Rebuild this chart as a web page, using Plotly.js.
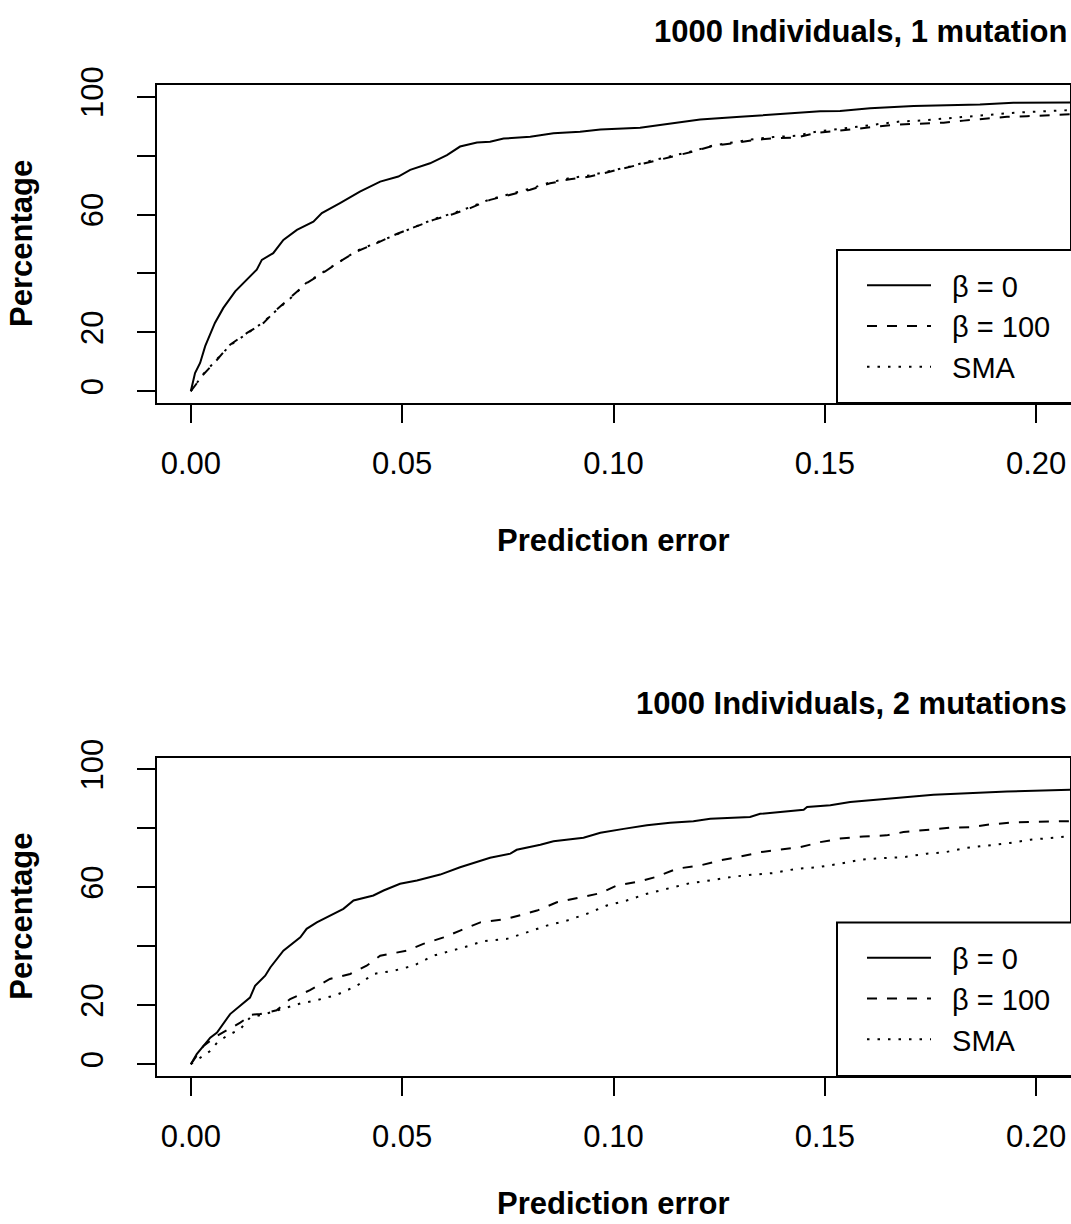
<!DOCTYPE html>
<html><head><meta charset="utf-8">
<script src="https://cdn.plot.ly/plotly-3.0.1.min.js"></script>
<style>html,body{margin:0;padding:0;background:#fff}#chart{width:1071px;height:1224px}</style>
</head><body><div id="chart"></div>
<script>
// ---- data ----
const xTickVals = [0, 0.05, 0.10, 0.15, 0.20];
const xTickText = ['0.00', '0.05', '0.10', '0.15', '0.20'];
const yTickVals = [0, 20, 40, 60, 80, 100];
const yTickText = ['0', '20', '', '60', '', '100'];
const seriesNames = ['β = 0', 'β = 100', 'SMA'];
const panelTitles = ['1000 Individuals, 1 mutation', '1000 Individuals, 2 mutations'];
const xLabel = 'Prediction error';
const yLabel = 'Percentage';

// panel 1: 1 mutation
const m1_b0_x = [0, .001, .0022, .0034, .0057, .0077, .0105, .0156, .0168, .0195, .0219, .0251, .029, .031, .0353, .04, .0448, .0491, .0519, .0566, .0606, .0637, .0677, .0708, .074, .0803, .0858, .0921, .0969, .1063, .111, .1158, .1205, .13, .1378, .1442, .1489, .1536, .1607, .171, .1867, .1946, .21];
const m1_b0_y = [0, 6.2, 9.6, 15.3, 23.2, 28.3, 33.9, 41.3, 44.6, 46.9, 51.4, 54.8, 57.6, 60.5, 63.9, 67.8, 71.2, 72.9, 75.2, 77.4, 80.2, 83.1, 84.5, 84.7, 85.8, 86.4, 87.6, 88.1, 88.9, 89.5, 90.4, 91.3, 92.3, 93.2, 94.0, 94.7, 95.1, 95.2, 96.1, 96.9, 97.4, 98.0, 98.1];
const m1_b100_x = [0, .003, .0062, .0093, .0133, .0172, .0203, .0243, .0274, .0314, .0353, .0393, .044, .0487, .0535, .0574, .0621, .0661, .0708, .0756, .0803, .085, .0897, .0944, .0992, .1039, .1086, .1134, .1189, .1237, .1284, .1331, .1378, .1434, .1481, .1529, .1576, .1631, .1678, .1734, .1781, .1828, .1876, .1931, .1978, .2025, .21];
const m1_b100_y = [0, 5.7, 10.7, 15.8, 19.8, 23.2, 27.7, 32.8, 36.7, 40.3, 44.1, 47.5, 50.3, 53.4, 55.9, 58.2, 60.2, 62.2, 65.0, 66.7, 68.4, 70.6, 72.0, 72.9, 74.6, 76.1, 78.0, 79.5, 81.4, 83.4, 84.2, 85.3, 85.9, 86.2, 87.8, 88.4, 89.2, 90.0, 90.6, 90.9, 91.2, 91.9, 92.6, 93.2, 93.4, 93.8, 94.2];
const m1_sma_x = [0, .003, .0062, .0093, .0133, .0172, .0203, .0243, .0274, .0314, .0353, .0393, .044, .0487, .0535, .0574, .0621, .0661, .0708, .0756, .0803, .085, .0897, .0944, .0992, .1039, .1086, .1134, .1189, .1237, .1284, .1331, .1378, .1434, .1481, .1529, .1576, .1631, .1678, .1734, .1781, .1828, .1876, .1931, .1978, .2025, .21];
const m1_sma_y = [0, 5.9, 10.9, 15.6, 19.6, 23.5, 27.5, 32.5, 36.9, 40.5, 44.0, 47.7, 50.5, 53.2, 56.1, 58.4, 60.5, 62.5, 65.2, 66.9, 68.8, 70.9, 72.4, 73.3, 74.9, 76.3, 78.2, 79.8, 81.6, 83.5, 84.5, 85.6, 86.3, 86.8, 88.2, 88.9, 89.8, 90.8, 91.6, 92.0, 92.6, 93.2, 93.9, 94.4, 94.8, 95.2, 95.6];

// panel 2: 2 mutations
const m2_b0_x = [0, .0014, .0046, .0062, .0093, .0117, .014, .0152, .0176, .0188, .0219, .0259, .0274, .0298, .0337, .0361, .0385, .0432, .0456, .0495, .0535, .059, .0637, .0708, .0756, .0771, .0827, .0858, .0929, .0969, .1024, .1079, .1134, .1189, .1229, .1323, .1347, .1394, .145, .1458, .1513, .156, .1655, .1757, .1931, .21];
const m2_b0_y = [0, 3.4, 9.0, 10.7, 17.0, 19.8, 22.6, 26.6, 30.0, 32.8, 38.5, 43.0, 45.9, 48.1, 51.0, 52.7, 55.5, 57.2, 58.9, 61.2, 62.3, 64.3, 66.8, 70.0, 71.4, 72.7, 74.4, 75.6, 76.8, 78.5, 79.8, 81.0, 81.9, 82.4, 83.2, 83.8, 84.9, 85.5, 86.3, 87.2, 87.8, 88.9, 90.2, 91.4, 92.5, 93.1];
const m2_b100_x = [0, .003, .0062, .0089, .0117, .0144, .0164, .0203, .0235, .0282, .0329, .0377, .0416, .0448, .0511, .055, .0598, .0637, .0685, .0748, .0819, .0866, .0921, .0969, .1008, .1063, .1103, .115, .1205, .1252, .13, .1347, .1394, .1442, .1489, .1536, .1591, .1646, .1686, .1741, .1797, .1844, .1891, .1946, .1994, .21];
const m2_b100_y = [0, 6.2, 9.6, 11.9, 14.1, 16.8, 17.0, 18.3, 22.1, 25.1, 28.9, 30.6, 33.4, 36.8, 38.5, 40.8, 43.0, 45.3, 48.1, 49.3, 52.1, 54.9, 56.6, 58.0, 60.6, 62.0, 63.6, 66.3, 67.4, 69.1, 70.4, 71.9, 72.8, 73.6, 75.3, 76.5, 77.2, 77.6, 78.7, 79.5, 80.2, 80.4, 81.3, 82.0, 82.2, 82.5];
const m2_sma_x = [0, .0022, .0046, .0062, .0085, .0117, .014, .018, .0219, .0259, .0298, .0345, .0393, .0432, .048, .0527, .0574, .0621, .0645, .0692, .0748, .0795, .0842, .089, .0937, .0984, .1031, .1079, .1126, .1181, .1229, .1284, .1331, .1378, .1434, .1484, .1536, .1587, .1638, .1686, .1741, .1785, .1837, .1887, .1938, .1986, .2065, .21];
const m2_sma_y = [0, 2.3, 4.5, 7.3, 9.6, 11.9, 15.8, 17.2, 19.0, 20.6, 21.7, 23.5, 26.6, 30.6, 31.7, 33.4, 36.8, 38.5, 39.6, 41.7, 42.5, 44.7, 47.0, 48.7, 51.0, 53.8, 55.5, 57.8, 59.5, 61.4, 62.3, 63.6, 64.3, 64.8, 66.3, 66.8, 68.0, 69.4, 69.9, 70.2, 71.4, 71.9, 73.4, 74.2, 75.0, 76.1, 77.3, 77.6];

// ---- layout helpers ----
const W = 1071, H = 1224, ML = 157, MR = 1;
const FONT = 'Liberation Sans, Arial, Helvetica, sans-serif';
const FS = 31;
const px2x = p => (p - ML) / (W - ML - MR);
const px2y = p => 1 - p / H;
const panels = [{top: 85, bottom: 403}, {top: 757.5, bottom: 1076}];
const dashes = ['solid', '10px,10px', '2.5px,8px'];
const NB = '\u00a0\u00a0';

const data = [];
const series = [
  [[m1_b0_x, m1_b0_y], [m1_b100_x, m1_b100_y], [m1_sma_x, m1_sma_y]],
  [[m2_b0_x, m2_b0_y], [m2_b100_x, m2_b100_y], [m2_sma_x, m2_sma_y]]
];
series.forEach((grp, pi) => {
  grp.forEach((s, si) => {
    data.push({
      type: 'scatter', mode: 'lines',
      x: s[0], y: s[1],
      name: NB + seriesNames[si],
      xaxis: pi === 0 ? 'x' : 'x2',
      yaxis: pi === 0 ? 'y' : 'y2',
      legend: pi === 0 ? 'legend' : 'legend2',
      line: {color: '#000', width: 2, dash: dashes[si]},
      hoverinfo: 'skip'
    });
  });
});

function xax(anchor) {
  return {
    domain: [0, 1], anchor: anchor, range: [-0.008, 0.208],
    tickvals: xTickVals, ticktext: xTickText,
    ticks: 'outside', ticklen: 18, tickwidth: 2, tickcolor: '#000',
    ticklabelstandoff: 14,
    showline: true, mirror: true, linewidth: 2, linecolor: '#000',
    showgrid: false, zeroline: false,
    tickfont: {family: FONT, size: FS, color: '#000'}
  };
}
function yax(anchor, p) {
  return {
    domain: [px2y(p.bottom), px2y(p.top)], anchor: anchor, range: [-4, 104],
    tickvals: yTickVals, ticktext: yTickText, tickangle: -90,
    ticks: 'outside', ticklen: 18, tickwidth: 2, tickcolor: '#000',
    ticklabelstandoff: 22,
    showline: true, mirror: true, linewidth: 2, linecolor: '#000',
    showgrid: false, zeroline: false,
    tickfont: {family: FONT, size: FS, color: '#000'}
  };
}
function leg(p) {
  return {
    x: px2x(862), xanchor: 'left', xref: 'paper',
    y: px2y(p.top + 241.5), yanchor: 'middle', yref: 'paper',
    bgcolor: 'rgba(0,0,0,0)', borderwidth: 0,
    font: {family: FONT, size: 29, color: '#000'},
    itemwidth: 64, tracegroupgap: 0, traceorder: 'normal'
  };
}

const annotations = [];
const shapes = [];
panels.forEach((p, i) => {
  annotations.push({
    text: '<b>' + panelTitles[i] + '</b>', xref: 'paper', yref: 'paper',
    x: px2x(1069), y: px2y(p.top - 54), xanchor: 'right', yanchor: 'middle',
    showarrow: false, font: {family: FONT, size: FS, color: '#000'}
  });
  annotations.push({
    text: '<b>' + xLabel + '</b>', xref: 'paper', yref: 'paper',
    x: px2x(613.5), y: px2y(Math.min(p.bottom + 137, H - 21)), xanchor: 'center', yanchor: 'middle',
    showarrow: false, font: {family: FONT, size: FS, color: '#000'}
  });
  annotations.push({
    text: '<b>' + yLabel + '</b>', xref: 'paper', yref: 'paper', textangle: -90,
    x: px2x(22), y: px2y((p.top + p.bottom) / 2), xanchor: 'center', yanchor: 'middle',
    showarrow: false, font: {family: FONT, size: FS, color: '#000'}
  });
  // legend frame
  shapes.push({
    type: 'rect', xref: 'paper', yref: 'paper', layer: 'above',
    x0: px2x(837), x1: px2x(1078), y0: px2y(p.bottom), y1: px2y(p.top + 165),
    line: {color: '#000', width: 2}, fillcolor: '#fff'
  });
});

const layout = {
  width: W, height: H,
  margin: {l: ML, r: MR, t: 0, b: 0, pad: 0},
  paper_bgcolor: '#fff', plot_bgcolor: '#fff',
  showlegend: true,
  xaxis: xax('y'), yaxis: yax('x', panels[0]),
  xaxis2: xax('y2'), yaxis2: yax('x2', panels[1]),
  legend: leg(panels[0]), legend2: leg(panels[1]),
  annotations: annotations, shapes: shapes,
  font: {family: FONT, color: '#000'}
};

Plotly.newPlot('chart', data, layout, {displayModeBar: false, staticPlot: true});
</script>
</body></html>
